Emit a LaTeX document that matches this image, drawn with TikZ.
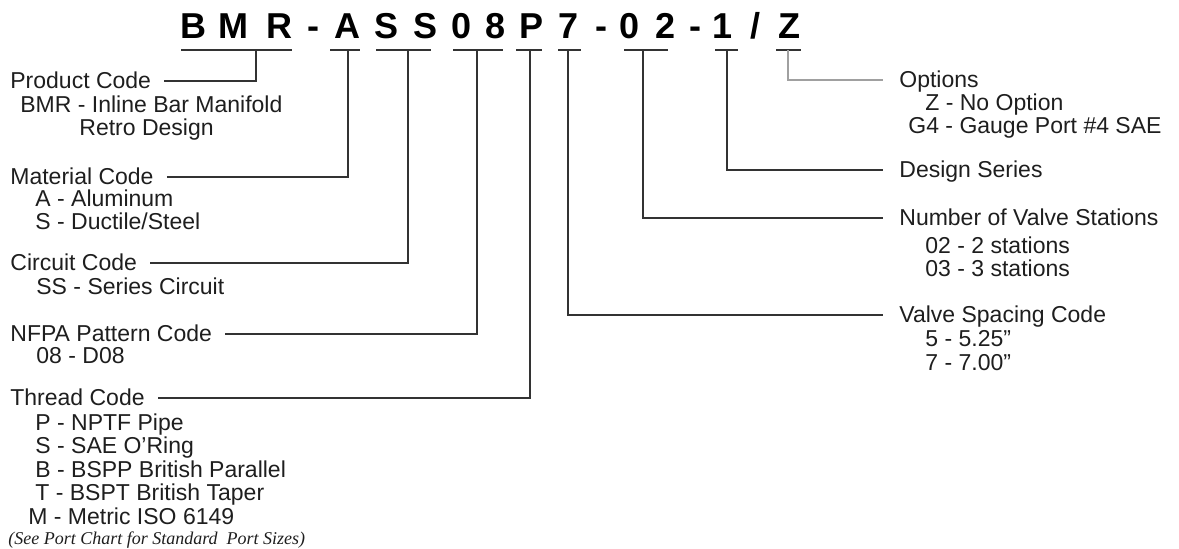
\documentclass[tikz,border=0pt]{standalone}
\usepackage{fontspec}
\setmainfont{Liberation Sans}
\newfontfamily\notefont{Liberation Serif}
\usetikzlibrary{positioning}
\definecolor{ink}{HTML}{1E1E1E}
\definecolor{rulegray}{HTML}{333333}
\definecolor{optgray}{HTML}{A0A0A0}
\tikzset{
  codechar/.style={
    font=\fontsize{18}{18}\selectfont\bfseries, text=black,
    inner sep=0pt, anchor=base
  },
  codebar/.style={draw=rulegray, line width=1pt},
  header/.style={
    font=\fontsize{11.5}{11.7}\selectfont, text=ink,
    inner sep=0pt, text height=8pt, text depth=1pt, anchor=west
  },
  detail/.style={
    font=\fontsize{11.5}{11.7}\selectfont, text=ink,
    inner sep=0pt, align=left, anchor=north west
  },
  leader/.style={draw=#1, line width=1pt},
  leader/.default=rulegray,
}
\begin{document}
\begin{tikzpicture}[x=0.5pt,y=-0.5pt]
  \useasboundingbox (0,0) rectangle (1179,548);

  % model code
  \foreach \ch/\xc in {B/193,M/233,R/279,-/313,A/347,S/387,S/426,0/462,8/496,
                       P/532,7/569,-/601,0/630,2/666,-/695,1/723,\slash/755,Z/789}
    \node[codechar] (t\xc) at (\xc,38) {\ch};
  \foreach \xa/\xb in {181/292,330/360,376/431,453/503,516/542,558/581,
                       624/668,715/738,776/801}
    \draw[codebar] (\xa,50) -- (\xb,50);

  \coordinate (sBMR) at (256,50);
  \coordinate (sA)   at (348,50);
  \coordinate (sSS)  at (408,50);
  \coordinate (s08)  at (477,50);
  \coordinate (sP)   at (530,50);
  \coordinate (s7)   at (568,50);
  \coordinate (s02)  at (643,50);
  \coordinate (s1)   at (727,50);
  \coordinate (sZ)   at (788,50);

  % left column
  \node[header] (hProd) at (10,81) {Product Code};
  \node[detail] (dProd) at (20,95.5)
    {BMR - Inline Bar Manifold\\\hspace*{29.5pt}Retro Design};
  \node[header] (hMat) at (10,177) {Material Code};
  \node[detail] (dMat) at (35,189.5) {A - Aluminum\\S - Ductile/Steel};
  \node[header] (hCirc) at (10,263) {Circuit Code};
  \node[detail] (dCirc) at (36,277.5) {SS - Series Circuit};
  \node[header] (hNfpa) at (10,334) {NFPA Pattern Code};
  \node[detail] (dNfpa) at (36,347.5) {08 - D08};
  \node[header] (hThr) at (10,398) {Thread Code};
  \node[detail] (dThr) at (28,413.5)
    {\hspace*{3.5pt}P - NPTF Pipe\\\hspace*{3.5pt}S - SAE O'Ring\\
     \hspace*{3.5pt}B - BSPP British Parallel\\\hspace*{3.5pt}T - BSPT British Taper\\
     M - Metric ISO 6149};
  \node[anchor=base west, inner sep=0pt, text=ink,
        font=\notefont\itshape\fontsize{9}{9}\selectfont] (note) at (8,544)
    {(See Port Chart for Standard~ Port Sizes)};

  % right column
  \node[header] (hOpt) at (899,80) {Options};
  \node[detail] (dOpt) at (908,93.5)
    {\hspace*{8.5pt}Z - No Option\\G4 - Gauge Port \#4 SAE};
  \node[header] (hDes) at (899,170) {Design Series};
  \node[header] (hNum) at (899,218) {Number of Valve Stations};
  \node[detail] (dNum) at (925,236.5) {02 - 2 stations\\03 - 3 stations};
  \node[header] (hVal) at (899,315) {Valve Spacing Code};
  \node[detail] (dVal) at (925,330.5) {5 - 5.25”\\7 - 7.00”};

  % leaders
  \draw[leader] ([xshift=6.5pt]hProd.east) -| (sBMR);
  \draw[leader] ([xshift=6.5pt]hMat.east) -| (sA);
  \draw[leader] ([xshift=6.5pt]hCirc.east) -| (sSS);
  \draw[leader] ([xshift=6.5pt]hNfpa.east) -| (s08);
  \draw[leader] ([xshift=6.5pt]hThr.east) -| (sP);
  \draw[leader] (s7) |- ([xshift=-8pt]hVal.west);
  \draw[leader] (s02) |- ([xshift=-8pt]hNum.west);
  \draw[leader] (s1) |- ([xshift=-8pt]hDes.west);
  \draw[leader=optgray] (sZ) |- ([xshift=-8pt]hOpt.west);
\end{tikzpicture}
\end{document}
